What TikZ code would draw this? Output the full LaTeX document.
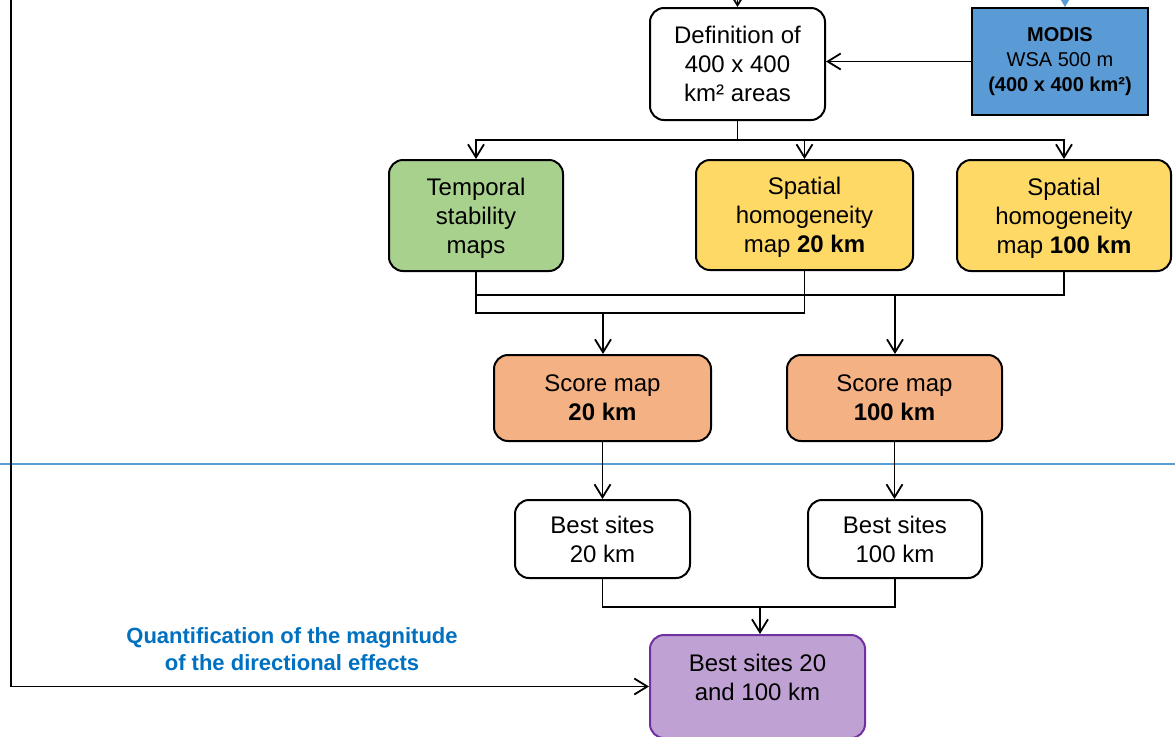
\documentclass[tikz,border=0pt]{standalone}
\usepackage{fontspec}
\setmainfont{Liberation Sans}
\usetikzlibrary{arrows.meta,positioning}

\definecolor{modisblue}{HTML}{5B9BD5}
\definecolor{stabgreen}{HTML}{A9D18E}
\definecolor{homyellow}{HTML}{FFD966}
\definecolor{scoreorange}{HTML}{F4B183}
\definecolor{sitepurple}{HTML}{BFA2D3}
\definecolor{siteedge}{HTML}{7030A0}
\definecolor{notetext}{HTML}{0070C0}

\tikzset{
  box/.style={draw=black, line width=1pt, rounded corners=7pt, align=center,
    inner sep=0pt, text depth=0pt, font=\fontsize{12}{14.5}\selectfont},
  plainbox/.style={box, fill=white},
  conn/.style={draw=black, line width=0.9pt, -{Straight Barb[length=6.5pt,width=8pt]}},
  link/.style={draw=black, line width=0.9pt},
}

\begin{document}
\begin{tikzpicture}[x=0.5pt, y=-0.5pt]
\useasboundingbox (0,0) rectangle (1175,736);

% boundary between the two processing stages
\draw[modisblue, line width=1.3pt] (0,464) -- (1175,464);

% nodes
\node[plainbox, minimum width=87.5pt, minimum height=56pt] (def) at (737.5,64)
  {Definition of\\400 x 400\\km² areas};
\node[draw=black, line width=1pt, fill=modisblue, align=center, inner sep=0pt,
  minimum width=88pt, minimum height=53.5pt,
  font=\fontsize{10}{12.3}\selectfont] (modis) at (1060,61.5)
  {\textbf{MODIS}\\WSA 500 m\\\textbf{(400 x 400 km²)}};

\node[box, fill=stabgreen, minimum width=87pt, minimum height=55.5pt] (temporal) at (476,215.5)
  {Temporal\\stability\\maps};
\node[box, fill=homyellow, minimum width=108.5pt, minimum height=55pt] (sp20) at (804.5,215)
  {Spatial\\homogeneity\\map \textbf{20 km}};
\node[box, fill=homyellow, minimum width=107pt, minimum height=55.5pt] (sp100) at (1064,215.5)
  {Spatial\\homogeneity\\map \textbf{100 km}};

\node[box, fill=scoreorange, minimum width=108.5pt, minimum height=43pt] (score20) at (602.5,398)
  {Score map\\\textbf{20 km}};
\node[box, fill=scoreorange, minimum width=107.5pt, minimum height=43pt] (score100) at (894.5,398)
  {Score map\\\textbf{100 km}};

\node[plainbox, minimum width=87.5pt, minimum height=39pt] (best20) at (602.5,539)
  {Best sites\\20 km};
\node[plainbox, minimum width=87pt, minimum height=39pt] (best100) at (895,539)
  {Best sites\\100 km};

\node[box, draw=siteedge, fill=sitepurple, minimum width=107.5pt, minimum height=51.5pt,
  text depth=9pt] (bestall) at (757.5,686.5)
  {Best sites 20\\and 100 km};

\node[align=center, text=notetext, font=\bfseries\fontsize{11}{13.5}\selectfont] (note) at (292,649)
  {Quantification of the magnitude\\of the directional effects};

% incoming connectors
\coordinate (defin) at (737.5,-20);
\coordinate (modisin) at (1065,-20);
\coordinate (leftin) at (11,-20);
\draw[conn] (defin) -- (def.north);
\draw[modisblue, line width=1pt, -{Triangle[length=7pt,width=8pt]}] (modisin) -- (modisin |- modis.north);
\draw[conn] (modis.west) -- (modis.west -| def.east);

% split into the three maps
\coordinate (split) at (737.5,140);
\draw[link] (def.south) -- (split);
\draw[conn] (split) -| (temporal.north);
\draw[conn] (split) -| (sp20.north);
\draw[conn] (split) -| (sp100.north);

% merge into the score maps
\coordinate (m20) at (603,313);
\coordinate (m100) at (895,295);
\draw[link] (temporal.south) |- (sp20.south |- m20) -- (sp20.south);
\draw[link] (temporal.south |- m100) -- (sp100.south |- m100) -- (sp100.south);
\draw[conn] (m20) -- (m20 |- score20.north);
\draw[conn] (m100) -- (m100 |- score100.north);

% best sites
\draw[conn] (score20.south) -- (best20.north);
\draw[conn] (score100.south) -- (score100.south |- best100.north);
\coordinate (mb) at (760,607);
\draw[link] (best20.south) |- (mb) -| (best100.south);
\draw[conn] (mb) -- (mb |- bestall.north);

% directional effects feedback
\draw[conn] (leftin) |- (bestall.west);
\end{tikzpicture}
\end{document}
